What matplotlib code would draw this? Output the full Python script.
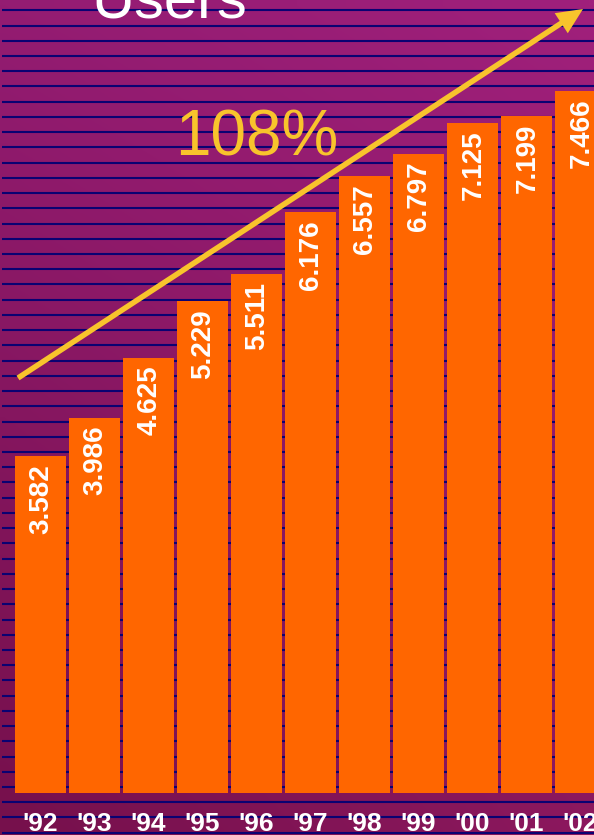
import numpy as np
import matplotlib.pyplot as plt

years = ["'92", "'93", "'94", "'95", "'96", "'97", "'98", "'99", "'00", "'01", "'02"]
users = [3.582, 3.986, 4.625, 5.229, 5.511, 6.176, 6.557, 6.797, 7.125, 7.199, 7.466]
growth_label = "108%"
title = "Users"

W, H = 594, 835
BAR_COLOR = '#FF6600'
ARROW_COLOR = '#F8C42C'
STRIPE_COLOR = '#0A0272'


def background(ax):
    # bilinear purple gradient
    tl = np.array([148, 28, 114]) / 255
    tr = np.array([160, 32, 124]) / 255
    bl = np.array([118, 16, 76]) / 255
    br = np.array([140, 24, 94]) / 255
    u = np.linspace(0, 1, 60)[None, :, None]
    v = np.linspace(0, 1, 80)[:, None, None]
    img = (1 - v) * ((1 - u) * tl + u * tr) + v * ((1 - u) * bl + u * br)
    ax.imshow(img, extent=[0, W, H, 0], aspect='auto', interpolation='bilinear', zorder=0)
    ys = np.arange(10.3, H, 15.23)
    ax.hlines(ys, 2, W, color=STRIPE_COLOR, linewidth=1.5, zorder=1)
    ax.set_xlim(0, W)
    ax.set_ylim(H, 0)
    ax.axis('off')


def main():
    fig = plt.figure(figsize=(W / 100, H / 100), dpi=100)
    bg = fig.add_axes([0, 0, 1, 1])
    background(bg)

    # bars axes, baseline at pixel 792.5
    base = 792.5
    ax = fig.add_axes([0, (H - base) / H, 1, base / H])
    ax.patch.set_alpha(0)
    px_per_unit = 94.0
    x = np.arange(len(years))
    ax.bar(x, users, width=51 / 54, color=BAR_COLOR, zorder=2)
    ax.set_xlim(-40.3 / 54, (W - 40.3) / 54)
    ax.set_ylim(0, base / px_per_unit)
    for xi, v in zip(x, users):
        ax.text(xi + 0.02, v - 8 / px_per_unit, f"{v:.3f}", rotation=90, ha='center', va='top',
                color='white', fontsize=20, fontweight='bold', family='Liberation Sans', zorder=3)
    ax.axis('off')

    for xi, yr in zip(x, years):
        px = 40.3 + 54 * xi
        bg.text(px, 831, yr, ha='center', va='baseline', color='white', fontsize=19,
                fontweight='bold', family='Liberation Sans', zorder=3)

    bg.arrow(18, 378, 565, -369, width=5.5, head_width=24, head_length=26,
             length_includes_head=True, color=ARROW_COLOR, linewidth=0, zorder=5)
    bg.text(257, 155, growth_label, ha='center', va='baseline', color=ARROW_COLOR,
            fontsize=46, family='Liberation Sans', zorder=5)
    bg.text(169, 17, title, ha='center', va='baseline', color='white',
            fontsize=43, family='Liberation Sans', zorder=5)

    fig.savefig('out.png', dpi=100)


if __name__ == '__main__':
    main()
